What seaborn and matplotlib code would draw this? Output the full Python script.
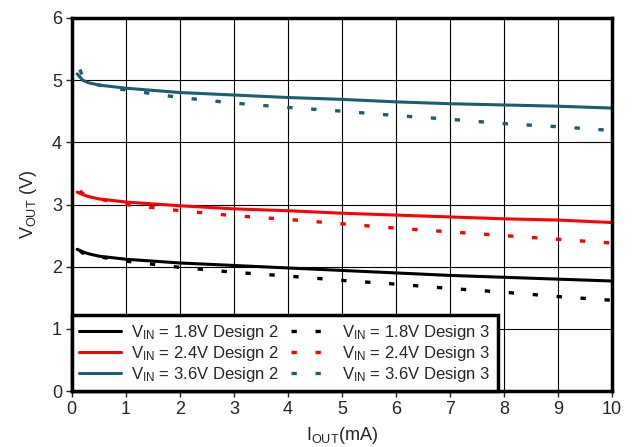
import matplotlib
matplotlib.use('Agg')
import matplotlib.pyplot as plt
import seaborn as sns
import pandas as pd

# Output current (mA)
x_pts = [0.1, 0.2, 0.3, 0.5, 1, 2, 3, 4, 5, 6, 7, 8, 9, 10]
x_pts_d3 = [0.15, 0.2, 0.3, 0.5, 1, 2, 3, 4, 5, 6, 7, 8, 9, 10]

# Output voltage (V), Design 2 (solid)
vout_18_d2 = [2.28, 2.24, 2.21, 2.17, 2.12, 2.06, 2.02, 1.98, 1.94, 1.90, 1.86, 1.83, 1.80, 1.77]
vout_24_d2 = [3.20, 3.16, 3.13, 3.09, 3.04, 2.98, 2.93, 2.90, 2.86, 2.83, 2.80, 2.77, 2.75, 2.71]
vout_36_d2 = [5.10, 5.00, 4.96, 4.92, 4.87, 4.80, 4.76, 4.72, 4.69, 4.65, 4.62, 4.60, 4.58, 4.55]

# Output voltage (V), Design 3 (dashed)
vout_18_d3 = [2.26, 2.22, 2.19, 2.16, 2.09, 1.99, 1.91, 1.85, 1.78, 1.72, 1.65, 1.59, 1.52, 1.46]
vout_24_d3 = [3.22, 3.18, 3.14, 3.09, 3.00, 2.90, 2.82, 2.76, 2.69, 2.62, 2.56, 2.50, 2.44, 2.38]
vout_36_d3 = [5.17, 5.06, 4.98, 4.92, 4.84, 4.72, 4.63, 4.56, 4.50, 4.43, 4.37, 4.30, 4.25, 4.19]

labels_d2 = ['$\\mathregular{V_{IN}}$ = 1.8V Design 2',
             '$\\mathregular{V_{IN}}$ = 2.4V Design 2',
             '$\\mathregular{V_{IN}}$ = 3.6V Design 2']
labels_d3 = ['$\\mathregular{V_{IN}}$ = 1.8V Design 3',
             '$\\mathregular{V_{IN}}$ = 2.4V Design 3',
             '$\\mathregular{V_{IN}}$ = 3.6V Design 3']
colors = ['#000000', '#ff0000', '#1b5e6e']

sns.set_style('ticks')
plt.rcParams['font.family'] = ['Liberation Sans', 'DejaVu Sans']
plt.rcParams['mathtext.fontset'] = 'custom'
plt.rcParams['mathtext.rm'] = 'Liberation Sans'

fig = plt.figure(figsize=(6.35, 4.47), dpi=100)
ax = fig.add_axes([0.113, 0.125, 0.851, 0.835])

dash = (0, (1.6, 5.6))
for ys, lab, c in zip([vout_18_d2, vout_24_d2, vout_36_d2], labels_d2, colors):
    sns.lineplot(x=x_pts, y=ys, ax=ax, color=c, lw=2.2, label=lab)
for ys, lab, c in zip([vout_18_d3, vout_24_d3, vout_36_d3], labels_d3, colors):
    sns.lineplot(x=x_pts_d3, y=ys, ax=ax, color=c, lw=2.4, linestyle=dash, label=lab)

ax.set_xlim(0, 10)
ax.set_ylim(0, 6)
ax.set_xticks(range(0, 11))
ax.set_yticks(range(0, 7))
ax.grid(True, color='black', lw=0.8)
ax.set_axisbelow(True)
for s in ax.spines.values():
    s.set_linewidth(2.5)
    s.set_color('black')
ax.tick_params(direction='out', length=4, width=1, labelsize=13, pad=3)
ax.set_xlabel('$\\mathregular{I_{OUT}}$(mA)', fontsize=13, labelpad=5)
ax.set_ylabel('$\\mathregular{V_{OUT}}$ (V)', fontsize=13, labelpad=9)

h, l = ax.get_legend_handles_labels()
leg = ax.legend(h, l, ncol=2, loc='lower left', bbox_to_anchor=(0, 0),
                borderaxespad=0, fontsize=12, frameon=True, fancybox=False,
                framealpha=1, edgecolor='black', handlelength=2.5,
                handletextpad=0.6, columnspacing=0.7, labelspacing=0.12,
                borderpad=0.45)
leg.get_frame().set_linewidth(2.5)

plt.savefig('out.png', dpi=100)
plt.close()
